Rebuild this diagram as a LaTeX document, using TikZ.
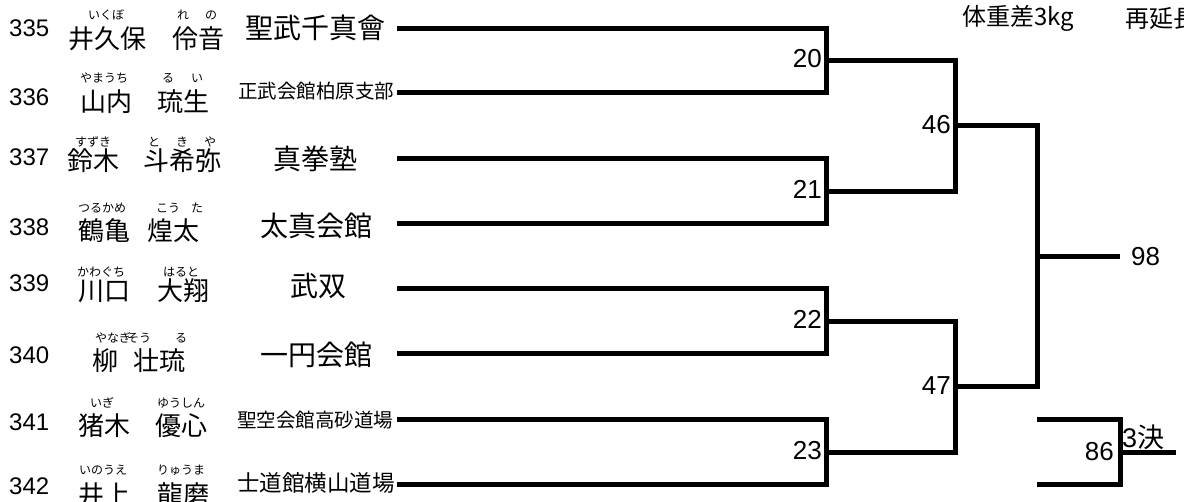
\documentclass[tikz,border=0pt]{standalone}
\usepackage{fontspec}
\setmainfont{Liberation Sans}
\newfontfamily\jp{Noto Sans CJK JP}
\tikzset{
 num/.style={anchor=west,inner sep=0pt,font=\fontsize{24}{24}\selectfont},
 nm/.style={anchor=west,inner sep=0pt,font=\jp\fontsize{26}{26}\selectfont},
 rb/.style={anchor=west,inner sep=0pt,font=\jp\fontsize{12}{12}\selectfont},
 rbc/.style={anchor=center,inner sep=0pt,font=\jp\fontsize{12}{12}\selectfont},
 club/.style={anchor=west,inner sep=0pt,font=\jp\fontsize{28}{28}\selectfont},
 clubs/.style={anchor=west,inner sep=0pt,font=\jp\fontsize{19.5}{19.5}\selectfont},
 bnum/.style={anchor=east,inner sep=0pt,font=\fontsize{26}{26}\selectfont},
 top/.style={anchor=west,inner sep=0pt,font=\jp\fontsize{24}{24}\selectfont},
 br/.style={line width=5pt,line join=miter},
}
\begin{document}
\begin{tikzpicture}[x=1pt,y=-1pt]
\clip (0,0) rectangle (1184,502);
\useasboundingbox (0,0) rectangle (1184,502);

% top texts
\node[top] (w1) at (962,18) {体重差3kg};
\node[top] (w2) at (1125,18) {再延長};

% row 335
\node[num] (n1) at (9,28) {335};
\node[rb] (r1a) at (88,15) {いくぼ};
\node[rbc] (r1b) at (183,15) {れ};
\node[rbc] (r1c) at (211,15) {の};
\node[nm] (p1a) at (68,39) {井久保};
\node[nm] (p1b) at (172,39) {伶音};
\node[club] (c1) at (245,28) {聖武千真會};

% row 336
\node[num] (n2) at (9,97) {336};
\node[rb] (r2a) at (80,78) {やまうち};
\node[rbc] (r2b) at (168,78) {る};
\node[rbc] (r2c) at (197,78) {い};
\node[nm] (p2a) at (80,102) {山内};
\node[nm] (p2b) at (157,102) {琉生};
\node[clubs] (c2) at (238,91) {正武会館柏原支部};

% row 337
\node[num] (n3) at (9,157) {337};
\node[rb] (r3a) at (75,142) {すずき};
\node[rbc] (r3b) at (154,142) {と};
\node[rbc] (r3c) at (182,142) {き};
\node[rbc] (r3d) at (210,142) {や};
\node[nm] (p3a) at (67,161) {鈴木};
\node[nm] (p3b) at (143,161) {斗希弥};
\node[club] (c3) at (273,159) {真拳塾};

% row 338
\node[num] (n4) at (9,227) {338};
\node[rb] (r4a) at (78,208) {つるかめ};
\node[rbc] (r4b) at (168,208) {こう};
\node[rbc] (r4c) at (197,208) {た};
\node[nm] (p4a) at (78,231) {鶴亀};
\node[nm] (p4b) at (147,231) {煌太};
\node[club] (c4) at (260,226) {太真会館};

% row 339
\node[num] (n5) at (9,283) {339};
\node[rb] (r5a) at (77,272) {かわぐち};
\node[rb] (r5b) at (163,272) {はると};
\node[nm] (p5a) at (78,291) {川口};
\node[nm] (p5b) at (157,291) {大翔};
\node[club] (c5) at (290,286) {武双};

% row 340
\node[num] (n6) at (9,355) {340};
\node[rb] (r6a) at (95,338) {やなぎ};
\node[rb] (r6b) at (127,338) {そう};
\node[rbc] (r6c) at (181,338) {る};
\node[nm] (p6a) at (92,361) {柳};
\node[nm] (p6b) at (133,361) {壮琉};
\node[club] (c6) at (260,355) {一円会館};

% row 341
\node[num] (n7) at (9,422) {341};
\node[rb] (r7a) at (90,403) {いぎ};
\node[rb] (r7b) at (157,403) {ゆうしん};
\node[nm] (p7a) at (78,426) {猪木};
\node[nm] (p7b) at (155,426) {優心};
\node[clubs] (c7) at (237,420) {聖空会館高砂道場};

% row 342
\node[num] (n8) at (9,486) {342};
\node[rb] (r8a) at (79,470) {いのうえ};
\node[rb] (r8b) at (157,470) {りゅうま};
\node[nm] (p8a) at (78,495) {井上};
\node[nm] (p8b) at (157,495) {龍磨};
\node[anchor=west,inner sep=0pt,font=\jp\fontsize{22.5}{22.5}\selectfont] (c8) at (237,483) {士道館横山道場};

% bracket coordinates
\foreach \i/\y in {1/29,2/93,3/159,4/224,5/289,6/354,7/420,8/485}{
  \coordinate (s\i) at (397,\y);
  \coordinate (e\i) at (826,\y);
}
\coordinate (q1) at (826,61);   \coordinate (q1r) at (955,61);
\coordinate (q2) at (826,191.5);\coordinate (q2r) at (955,191.5);
\coordinate (q3) at (826,321.5);\coordinate (q3r) at (955,321.5);
\coordinate (q4) at (826,452.5);\coordinate (q4r) at (955,452.5);
\coordinate (h1) at (955,126);  \coordinate (h1r) at (1037,126);
\coordinate (h2) at (955,387);  \coordinate (h2r) at (1037,387);
\coordinate (f)  at (1037,256.5);\coordinate (fr) at (1120,256.5);
\coordinate (t1) at (1037,420); \coordinate (t1r) at (1120,420);
\coordinate (t2) at (1037,485); \coordinate (t2r) at (1120,485);
\coordinate (tm) at (1120,452.5);\coordinate (tmr) at (1176,452.5);

\draw[br] (s1) -- (e1) -- (e2) -- (s2);
\draw[br] (s3) -- (e3) -- (e4) -- (s4);
\draw[br] (s5) -- (e5) -- (e6) -- (s6);
\draw[br] (s7) -- (e7) -- (e8) -- (s8);
\draw[br] (q1) -- (q1r) -- (q2r) -- (q2);
\draw[br] (q3) -- (q3r) -- (q4r) -- (q4);
\draw[br] (h1) -- (h1r) -- (h2r) -- (h2);
\draw[br] (f) -- (fr);
\draw[br] (t1) -- (t1r) -- (t2r) -- (t2);
\draw[br] (tm) -- (tmr);

% bracket labels
\node[bnum] (l20) at (822,59) {20};
\node[bnum] (l21) at (822,189.5) {21};
\node[bnum] (l22) at (822,319.5) {22};
\node[bnum] (l23) at (822,450.5) {23};
\node[bnum] (l46) at (951,125) {46};
\node[bnum] (l47) at (951,386) {47};
\node[bnum] (l86) at (1114,452) {86};
\node[anchor=west,inner sep=0pt,font=\fontsize{26}{26}\selectfont] (l98) at (1131,257) {98};
\node[anchor=west,inner sep=0pt,font=\fontsize{27}{27}\selectfont] (l3k) at (1122,437) {3{\jp 決}};
\end{tikzpicture}
\end{document}
